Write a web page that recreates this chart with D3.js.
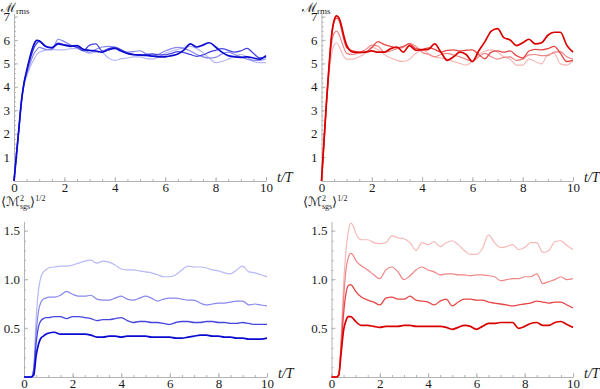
<!DOCTYPE html>
<html>
<head>
<meta charset="utf-8">
<script src="https://cdn.jsdelivr.net/npm/d3@7"></script>
<style>
  body { margin: 0; background: #fff; }
  svg { display: block; }
  text { font-family: "Liberation Serif", "Times New Roman", serif; fill: #1a1a1a; }
</style>
</head>
<body>
<svg id="chart" width="600" height="389"></svg>
<script>
// time grid (t/T)
const times = [0, 0.1, 0.2, 0.3, 0.4, 0.5, 0.6, 0.7, 0.8, 0.9, 1.0,
  1.25, 1.5, 1.75, 2.0, 2.25, 2.5, 2.75, 3.0, 3.25, 3.5, 3.75, 4.0, 4.25, 4.5, 4.75,
  5.0, 5.25, 5.5, 5.75, 6.0, 6.25, 6.5, 6.75, 7.0, 7.25, 7.5, 7.75, 8.0, 8.25, 8.5, 8.75,
  9.0, 9.25, 9.5, 9.75, 10.0];

// top left: M_rms, blue runs (darkest first)
const rmsBlue1 = [0, 1.15, 2.3, 3.45, 4.2, 4.7, 5.15, 5.55, 5.85, 6.0, 5.98,
  5.75, 5.68, 5.85, 5.8, 5.75, 5.78, 5.62, 5.58, 5.55, 5.5, 5.6, 5.66, 5.55, 5.45, 5.4,
  5.38, 5.36, 5.33, 5.3, 5.3, 5.35, 5.42, 5.6, 5.85, 5.72, 5.8, 5.9, 5.72, 5.5, 5.35, 5.3,
  5.28, 5.3, 5.25, 5.2, 5.35];
const rmsBlue2 = [0, 1.15, 2.3, 3.45, 4.2, 4.65, 5.05, 5.4, 5.7, 5.88, 5.95,
  5.75, 5.7, 5.88, 5.82, 5.78, 5.7, 5.55, 5.8, 5.85, 5.55, 5.65, 5.7, 5.6, 5.45, 5.38,
  5.36, 5.4, 5.42, 5.38, 5.38, 5.45, 5.52, 5.48, 5.4, 5.32, 5.38, 5.5, 5.58, 5.65, 5.58, 5.5,
  5.55, 5.66, 5.45, 5.25, 5.3];
const rmsBlue3 = [0, 1.15, 2.3, 3.45, 4.15, 4.55, 4.9, 5.2, 5.45, 5.6, 5.7,
  5.62, 5.6, 6.05, 5.95, 5.8, 5.72, 5.6, 5.5, 5.62, 5.72, 5.75, 5.72, 5.6, 5.5, 5.52,
  5.56, 5.42, 5.32, 5.42, 5.55, 5.65, 5.7, 5.65, 5.55, 5.4, 5.3, 5.25, 5.28, 5.42, 5.5, 5.4,
  5.3, 5.2, 5.15, 5.15, 5.22];
const rmsBlue4 = [0, 1.15, 2.3, 3.4, 4.1, 4.45, 4.75, 5.0, 5.2, 5.4, 5.5,
  5.58, 5.62, 5.6, 5.6, 5.65, 5.65, 5.55, 5.45, 5.5, 5.48, 5.25, 5.15, 5.22, 5.25, 5.3,
  5.3, 5.22, 5.2, 5.3, 5.45, 5.55, 5.62, 5.7, 5.75, 5.65, 5.48, 5.25, 5.05, 5.1, 5.2, 5.32,
  5.4, 5.3, 5.1, 5.05, 5.05];

// top right: M_rms, red runs (darkest first)
const rmsRed1 = [0, 1.7, 3.4, 4.9, 6.2, 6.85, 7.05, 6.95, 6.6, 6.15, 5.8,
  5.5, 5.48, 5.5, 5.55, 5.5, 5.5, 5.65, 5.72, 5.5, 5.78, 5.58, 5.6, 5.62, 5.85, 5.5,
  5.15, 5.3, 5.5, 5.4, 5.1, 5.55, 5.95, 6.4, 6.5, 6.12, 6.02, 5.78, 5.9, 6.05, 5.85, 5.9,
  6.22, 6.35, 6.35, 5.8, 5.5];
const rmsRed2 = [0, 1.7, 3.4, 4.9, 6.15, 6.8, 6.95, 6.85, 6.45, 6.0, 5.7,
  5.55, 5.5, 5.5, 5.7, 5.95, 5.82, 5.75, 5.68, 5.75, 5.85, 5.65, 5.62, 5.68, 5.62, 5.5,
  5.58, 5.6, 5.55, 5.58, 5.6, 5.4, 5.22, 5.5, 5.55, 5.5, 5.55, 5.35, 5.25, 5.55, 5.62, 5.6,
  5.65, 5.75, 5.45, 5.1, 5.15];
const rmsRed3 = [0, 1.7, 3.4, 4.8, 5.85, 6.3, 6.4, 6.25, 5.95, 5.65, 5.45,
  5.4, 5.5, 5.6, 5.8, 5.75, 5.5, 5.55, 5.65, 5.7, 5.88, 5.75, 5.5, 5.4, 5.3, 5.4,
  5.45, 5.38, 5.3, 5.2, 5.1, 5.3, 5.45, 5.3, 5.2, 5.28, 5.3, 5.15, 5.2, 5.38, 5.4, 5.35,
  5.35, 5.5, 5.52, 5.3, 5.2];
const rmsRed4 = [0, 1.7, 3.3, 4.6, 5.4, 5.8, 5.9, 5.75, 5.5, 5.3, 5.2,
  5.2, 5.3, 5.45, 5.7, 5.6, 5.4, 5.25, 5.15, 5.1, 5.2, 5.45, 5.6, 5.45, 5.3, 5.25,
  5.2, 5.1, 5.02, 4.95, 5.1, 5.4, 5.55, 5.6, 5.5, 5.3, 5.2, 4.95, 4.95, 5.2, 5.1, 5.0,
  5.4, 5.45, 5.0, 4.95, 5.15];

// bottom left: <M_sgs^2>^1/2, blue runs (darkest first)
const sgsBlue1 = [0, 0, 0, 0, 0.02, 0.22, 0.34, 0.4, 0.42, 0.44, 0.45,
  0.46, 0.44, 0.44, 0.44, 0.44, 0.44, 0.43, 0.41, 0.41, 0.42, 0.42, 0.41, 0.42, 0.42, 0.42,
  0.42, 0.41, 0.41, 0.41, 0.41, 0.4, 0.4, 0.41, 0.42, 0.43, 0.43, 0.42, 0.42, 0.41, 0.41, 0.4,
  0.4, 0.39, 0.39, 0.39, 0.4];
const sgsBlue2 = [0, 0, 0, 0, 0.06, 0.35, 0.52, 0.58, 0.6, 0.61, 0.61,
  0.62, 0.62, 0.6, 0.62, 0.62, 0.61, 0.6, 0.58, 0.59, 0.59, 0.6, 0.61, 0.58, 0.56, 0.57,
  0.57, 0.56, 0.56, 0.55, 0.54, 0.56, 0.57, 0.57, 0.56, 0.56, 0.57, 0.57, 0.56, 0.56, 0.55, 0.55,
  0.56, 0.55, 0.54, 0.54, 0.54];
const sgsBlue3 = [0, 0, 0, 0, 0.08, 0.45, 0.68, 0.77, 0.8, 0.81, 0.82,
  0.82, 0.84, 0.88, 0.85, 0.83, 0.83, 0.84, 0.8, 0.79, 0.79, 0.81, 0.83, 0.8, 0.79, 0.81,
  0.83, 0.81, 0.78, 0.8, 0.81, 0.81, 0.8, 0.79, 0.79, 0.76, 0.74, 0.75, 0.76, 0.76, 0.77, 0.78,
  0.78, 0.74, 0.75, 0.74, 0.73];
const sgsBlue4 = [0, 0, 0, 0, 0.1, 0.6, 0.9, 1.03, 1.08, 1.1, 1.12,
  1.13, 1.14, 1.14, 1.15, 1.17, 1.19, 1.2, 1.17, 1.19, 1.18, 1.15, 1.11, 1.1, 1.1, 1.09,
  1.08, 1.07, 1.05, 1.03, 1.03, 1.05, 1.1, 1.14, 1.13, 1.13, 1.12, 1.1, 1.09, 1.07, 1.06, 1.1,
  1.14, 1.08, 1.07, 1.05, 1.03];

// bottom right: <M_sgs^2>^1/2, red runs (darkest first)
const sgsRed1 = [0, 0, 0, 0.02, 0.25, 0.48, 0.58, 0.62, 0.62, 0.6, 0.57,
  0.53, 0.53, 0.52, 0.51, 0.52, 0.52, 0.52, 0.53, 0.53, 0.52, 0.52, 0.52, 0.52, 0.52, 0.51,
  0.49, 0.51, 0.53, 0.52, 0.49, 0.52, 0.55, 0.55, 0.56, 0.56, 0.56, 0.5, 0.52, 0.55, 0.56, 0.53,
  0.53, 0.56, 0.57, 0.54, 0.51];
const sgsRed2 = [0, 0, 0, 0.02, 0.3, 0.65, 0.86, 0.94, 0.95, 0.92, 0.88,
  0.82, 0.79, 0.77, 0.74, 0.81, 0.82, 0.8, 0.8, 0.83, 0.79, 0.78, 0.77, 0.74, 0.78, 0.8,
  0.73, 0.77, 0.8, 0.8, 0.79, 0.79, 0.77, 0.76, 0.75, 0.74, 0.73, 0.74, 0.75, 0.76, 0.78, 0.77,
  0.76, 0.77, 0.77, 0.74, 0.71];
const sgsRed3 = [0, 0, 0, 0.02, 0.35, 0.8, 1.1, 1.23, 1.27, 1.25, 1.2,
  1.14, 1.1, 1.05, 1.01, 1.1, 1.13, 1.08, 1.0, 1.04, 1.1, 1.13, 1.1, 1.08, 1.05, 1.06,
  1.06, 1.05, 1.05, 1.04, 1.05, 1.05, 1.04, 1.03, 0.99, 1.0, 1.01, 1.01, 1.03, 1.03, 1.06, 0.96,
  0.98, 1.0, 1.03, 1.0, 1.01];
const sgsRed4 = [0, 0, 0, 0.02, 0.4, 0.95, 1.3, 1.5, 1.58, 1.55, 1.48,
  1.41, 1.41, 1.38, 1.37, 1.38, 1.45, 1.43, 1.42, 1.38, 1.3, 1.38, 1.36, 1.39, 1.34, 1.38,
  1.4, 1.36, 1.3, 1.26, 1.26, 1.32, 1.46, 1.38, 1.33, 1.34, 1.36, 1.31, 1.33, 1.38, 1.38, 1.28,
  1.3, 1.39, 1.4, 1.35, 1.31];

const blues = ["#0b0bd0", "#4646df", "#8787ec", "#b8b8f6"];
const reds = ["#d90000", "#e64646", "#ef8585", "#f6b8b8"];
const widths = [1.7, 1.3, 1.2, 1.2];

const xTicks = [0, 2, 4, 6, 8, 10];
const rmsTicks = [1, 2, 3, 4, 5, 6, 7];
const sgsTicks = [0.5, 1.0, 1.5];

const serif = '"Liberation Serif", "Times New Roman", serif';
const svg = d3.select("#chart");

function drawPanel(p) {
  const x = d3.scaleLinear().domain([0, 10]).range([p.left, p.right]);
  const y = d3.scaleLinear().domain([0, p.yTick]).range([p.bottom, p.top]);
  const g = svg.append("g");

  // minor ticks
  g.append("g")
    .attr("transform", `translate(0,${p.bottom})`)
    .call(d3.axisBottom(x).tickValues(d3.range(0, 10.01, 0.5)).tickSize(-2).tickSizeOuter(0).tickFormat(""))
    .call(a => a.select(".domain").remove());
  g.append("g")
    .attr("transform", `translate(${p.left},0)`)
    .call(d3.axisLeft(y).tickValues(d3.range(p.minor, p.yMax, p.minor)).tickSize(-2).tickSizeOuter(0).tickFormat(""))
    .call(a => a.select(".domain").remove());

  // major ticks + labels
  const xa = g.append("g")
    .attr("transform", `translate(0,${p.bottom})`)
    .call(d3.axisBottom(x).tickValues(xTicks).tickSize(-4).tickSizeOuter(0).tickPadding(2).tickFormat(d3.format("d")));
  const ya = g.append("g")
    .attr("transform", `translate(${p.left},0)`)
    .call(d3.axisLeft(d3.scaleLinear().domain([0, p.yMax]).range([p.bottom, y(p.yMax)]))
      .tickValues(p.yTicks).tickSize(-4).tickSizeOuter(0).tickPadding(4).tickFormat(p.fmt));
  // put y ticks on the real scale
  ya.selectAll(".tick").attr("transform", d => `translate(0,${y(d)})`);

  g.selectAll("g").attr("font-family", serif);
  [xa, ya].forEach(a => {
    a.select(".domain").attr("stroke", "#b4b4b4");
    a.selectAll("text").attr("font-size", 13).attr("fill", "#1a1a1a");
  });
  g.selectAll("line").attr("stroke", "#b4b4b4");

  // series: lightest first
  const line = d3.line()
    .x((d, i) => x(times[i]))
    .y(d => y(d))
    .curve(d3.curveMonotoneX);
  for (let k = p.series.length - 1; k >= 0; k--) {
    g.append("path")
      .datum(p.series[k])
      .attr("fill", "none")
      .attr("stroke", p.colors[k])
      .attr("stroke-width", widths[k])
      .attr("stroke-linejoin", "round")
      .attr("d", line);
  }

  // axis titles
  g.append("text")
    .attr("x", p.right + 11).attr("y", p.bottom + 1)
    .attr("font-size", 14).attr("font-style", "italic")
    .text("t/T");

  const yl = g.append("text").attr("x", p.titleX).attr("y", p.titleY).attr("font-size", 13);
  if (p.kind === "rms") {
    yl.append("tspan").text("ℳ");
    yl.append("tspan").attr("font-size", 9).attr("dy", 2).text("rms");
  } else {
    yl.append("tspan").text("⟨");
    yl.append("tspan").text("ℳ");
    yl.append("tspan").attr("font-size", 8).attr("dy", -5).text("2");
    yl.append("tspan").attr("font-size", 8).attr("dy", 8).attr("dx", -4).text("sgs");
    yl.append("tspan").attr("dy", -3).text("⟩");
    yl.append("tspan").attr("font-size", 8).attr("dy", -5).text("1/2");
  }
}

const rmsPanel = { kind: "rms", yTick: 7, yMax: 7.15, minor: 0.2, yTicks: rmsTicks, fmt: d3.format("d"), top: 17, bottom: 181 };
const sgsPanel = { kind: "sgs", yTick: 1.5, yMax: 1.6, minor: 0.1, yTicks: sgsTicks, fmt: d3.format(".1f"), top: 231, bottom: 377 };

drawPanel(Object.assign({}, rmsPanel, { left: 14, right: 266, titleX: 1, titleY: 12,
  series: [rmsBlue1, rmsBlue2, rmsBlue3, rmsBlue4], colors: blues }));
drawPanel(Object.assign({}, rmsPanel, { left: 321.5, right: 573, titleX: 302, titleY: 12,
  series: [rmsRed1, rmsRed2, rmsRed3, rmsRed4], colors: reds }));
drawPanel(Object.assign({}, sgsPanel, { left: 24, right: 267, titleX: 1, titleY: 206,
  series: [sgsBlue1, sgsBlue2, sgsBlue3, sgsBlue4], colors: blues }));
drawPanel(Object.assign({}, sgsPanel, { left: 331.5, right: 573, titleX: 303, titleY: 206,
  series: [sgsRed1, sgsRed2, sgsRed3, sgsRed4], colors: reds }));
</script>
</body>
</html>
